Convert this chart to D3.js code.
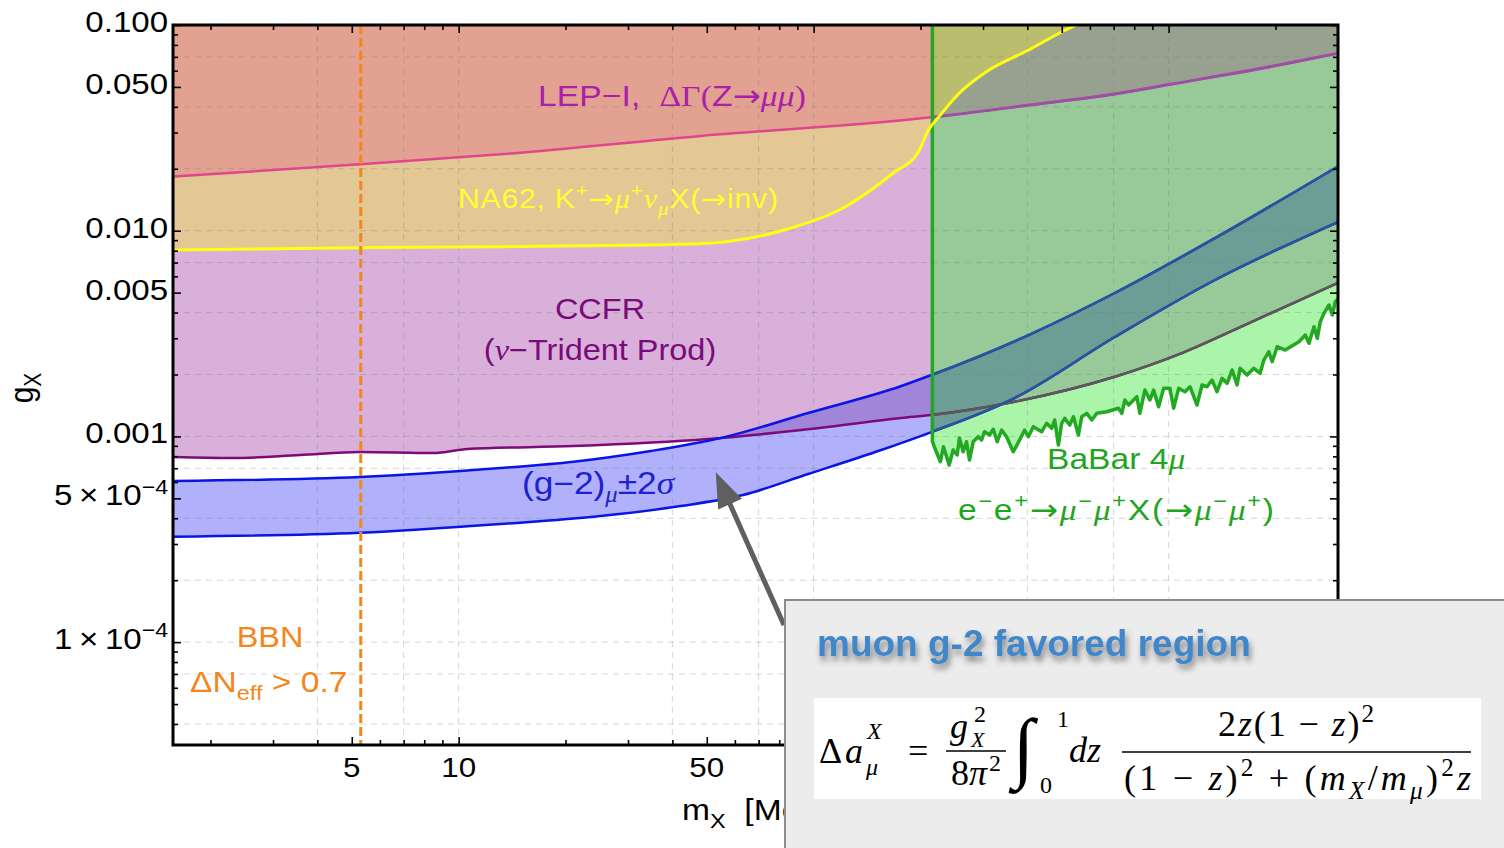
<!DOCTYPE html>
<html>
<head>
<meta charset="utf-8">
<script src="https://cdn.jsdelivr.net/npm/d3@7"></script>
<style>
  body { margin: 0; background: #fff; }
  text { white-space: pre; }
</style>
</head>
<body>
<svg id="chart" width="1504" height="848"></svg>
<script>
// values: masses m_X in MeV, couplings g_X
var xDomain = [1.568, 3000];
var yDomain = [3.162e-5, 0.1];

var lepMass = [1.575, 5.278, 13.11, 48.13, 214.6, 405.8, 705.3, 1022, 2048, 3045];
var lepG = [0.01834, 0.02103, 0.02351, 0.02887, 0.03557, 0.04084, 0.04618, 0.05165, 0.0639, 0.0733];

var na62Mass = [1.575, 5.278, 13.11, 45.98, 86.4, 119.6, 167.7, 197.3, 210.6, 225.4, 257.5, 302.9, 403.2, 499.5, 588];
var na62G = [0.008057, 0.008267, 0.00836, 0.008616, 0.01031, 0.01275, 0.01908, 0.02413, 0.03088, 0.03582, 0.04671, 0.05843, 0.07558, 0.09247, 0.1057];

var ccfrMass = [1.575, 2.312, 3.573, 5.278, 8.483, 10.58, 21.08, 50.37, 92.2, 176.6, 214.6, 368.2, 705.3, 1090, 1685, 3045];
var ccfrG = [7.94e-4, 7.85e-4, 8.12e-4, 8.40e-4, 8.30e-4, 8.69e-4, 8.98e-4, 9.71e-4, 1.074e-3, 1.229e-3, 1.271e-3, 1.475e-3, 1.951e-3, 2.543e-3, 3.557e-3, 5.65e-3];

var g2UpMass = [1.575, 5.278, 13.11, 21.08, 34.77, 54.81, 96.5, 176.6, 214.6, 403.2, 705.3, 1351, 3045];
var g2UpG = [6.07e-4, 6.35e-4, 7.02e-4, 7.53e-4, 8.49e-4, 9.82e-4, 1.299e-3, 1.758e-3, 1.988e-3, 3.111e-3, 4.98e-3, 9.21e-3, 0.02087];

var g2LoMass = [1.575, 5.278, 13.11, 25.12, 42.26, 63.24, 96.5, 155.1, 214.6, 368.2, 705.3, 1351, 3045];
var g2LoG = [3.254e-4, 3.402e-4, 3.751e-4, 4.102e-4, 4.587e-4, 5.189e-4, 6.566e-4, 8.59e-4, 1.050e-3, 1.537e-3, 3.042e-3, 5.76e-3, 0.01114];

// BaBar 4mu: vertical edge at babarMass[0], then the jagged limit
var babarMass = [216, 218.8, 227.6, 232.1, 240.8, 247.2, 253.7, 257.5, 263.8, 269.5, 274.8, 281.5, 290.8, 297.1, 303.0,
  313.0, 320.6, 329.0, 338.4, 349.5, 365.1, 380.4, 392.9, 402.5, 415.8, 438.8, 453.3, 468.3, 477.6, 489.2, 499.8,
  509.6, 526.5, 539.3, 557.1, 569.2, 588.0, 607.4, 627.5, 669.6, 722.5, 738.2, 752.7, 771.1, 813.8, 829.8, 857.3,
  885.6, 907.1, 937.1, 968.1, 1008.5, 1033.1, 1067.2, 1111.9, 1148.6, 1202.1, 1242.0, 1282.6, 1325.0, 1369.0, 1414.1,
  1460.9, 1509.2, 1559.1, 1589.8, 1663.8, 1737.8, 1810.5, 1854.6, 1915.8, 1957.2, 2021.8, 2130.1, 2328.5, 2426.2,
  2485.3, 2567.2, 2622.8, 2674.5, 2739.5, 2829.7, 2891.1, 2948.1, 3046.2];
var babarG = [9.5e-4, 8.881e-4, 7.534e-4, 8.911e-4, 7.261e-4, 8.588e-4, 8.121e-4, 9.823e-4, 8.426e-4, 9.424e-4, 7.678e-4, 9.424e-4, 9.966e-4, 9.605e-4, 10.54e-4,
  10.16e-4, 10.83e-4, 9.424e-4, 10.74e-4, 9.966e-4, 8.426e-4, 9.605e-4, 10.74e-4, 9.966e-4, 11.15e-4, 10.54e-4, 11.58e-4, 10.95e-4, 12.02e-4, 9.082e-4, 11.58e-4,
  12.24e-4, 11.36e-4, 12.47e-4, 10.16e-4, 12.47e-4, 12.95e-4, 12.02e-4, 12.95e-4, 13.18e-4, 13.70e-4, 12.95e-4, 15.03e-4, 14.21e-4, 15.60e-4, 12.95e-4, 16.81e-4,
  15.03e-4, 16.81e-4, 13.94e-4, 17.13e-4, 17.13e-4, 13.70e-4, 17.13e-4, 16.50e-4, 17.44e-4, 14.21e-4, 17.78e-4, 17.44e-4, 18.80e-4, 16.50e-4, 19.16e-4,
  18.12e-4, 21.03e-4, 17.78e-4, 21.43e-4, 19.88e-4, 21.43e-4, 20.27e-4, 23.51e-4, 25.81e-4, 23.08e-4, 27.30e-4, 26.30e-4, 28.87e-4, 31.11e-4,
  28.36e-4, 34.15e-4, 29.98e-4, 36.11e-4, 39.67e-4, 43.53e-4, 38.92e-4, 45.17e-4, 47.77e-4];

var bbnMass = 5.3;

// arrow from the inset to the g-2 band (data coordinates)
var arrowFrom = [82.5, 1.21e-4];
var arrowTo = [53, 6.7e-4];

var xMajor = [5, 10, 50, 100, 500, 1000];
var xMinor = [2, 3, 4, 6, 7, 8, 9, 20, 30, 40, 60, 70, 80, 90, 200, 300, 400, 600, 700, 800, 900, 2000];
// only these labels are left uncovered by the inset box
var xLabelVals = [5, 10, 50];
var xLabels = ["5", "10", "50"];
var yMajor = [1e-4, 5e-4, 1e-3, 5e-3, 0.01, 0.05, 0.1];
var yMinor = [4e-5, 5e-5, 6e-5, 7e-5, 8e-5, 9e-5, 2e-4, 3e-4, 4e-4, 6e-4, 7e-4, 8e-4, 9e-4,
  2e-3, 3e-3, 4e-3, 6e-3, 7e-3, 8e-3, 9e-3, 0.02, 0.03, 0.04, 0.06, 0.07, 0.08, 0.09];
var yLabelVals = [0.1, 0.05, 0.01, 0.005, 0.001, 5e-4, 1e-4];
var yLabelText = ["0.100", "0.050", "0.010", "0.005", "0.001", "5\u2009×\u200910", "1\u2009×\u200910"];
var yLabelExp = ["", "", "", "", "", "−4", "−4"];
var xGrid = [4, 7, 10, 40, 70, 100, 400, 700, 1000];
var yGrid = [4e-5, 7e-5, 1e-4, 2e-4, 4e-4, 7e-4, 1e-3, 2e-3, 4e-3, 7e-3, 0.01, 0.02, 0.04, 0.07];

var plot = { left: 173, right: 1338, top: 25, bottom: 745 };
var SANS = "'Liberation Sans', Arial, sans-serif";
var SERIF = "'Liberation Serif', 'Times New Roman', serif";
var ARROW = "'DejaVu Sans', sans-serif";
var STRETCH = 1.12; // the source figure is a bit wider than tall

var C = {
  lilac: "#d8b0da", tan: "#e3c795", salmon: "#e3a192",
  blueFill: "#b0b0fb", purpleFill: "#a085d8",
  green1: "#abf5ab", green2: "#98c998", greenGray: "#98a190", olive: "#b9bd6d", teal: "#6d9e96",
  lep: "#e0468c", lepIn: "#9b50a5", ccfr: "#7d0a78", ccfrIn: "#5a5a5a",
  blue: "#0a14e6", blueIn: "#2a5698", yellow: "#ffff10", babar: "#22a822", bbn: "#f2871c"
};

var x = d3.scaleLog().domain(xDomain).range([plot.left, plot.right]);
var y = d3.scaleLog().domain(yDomain).range([plot.bottom, plot.top]);

function pairs(ms, gs) {
  return ms.map(function (m, i) { return [m, gs[i]]; });
}
var lep = pairs(lepMass, lepG);
var na62 = pairs(na62Mass, na62G);
var ccfr = pairs(ccfrMass, ccfrG);
var g2Up = pairs(g2UpMass, g2UpG);
var g2Lo = pairs(g2LoMass, g2LoG);
var babar = pairs(babarMass, babarG);

var line = d3.line().x((d) => x(d[0])).y((d) => y(d[1])).curve(d3.curveMonotoneX);
var above = d3.area().x((d) => x(d[0])).y0(plot.top - 20).y1((d) => y(d[1])).curve(d3.curveMonotoneX);
var below = d3.area().x((d) => x(d[0])).y0(plot.bottom + 20).y1((d) => y(d[1])).curve(d3.curveMonotoneX);

var babarPts = [[x(babar[0][0]), plot.top - 20]].concat(babar.map((d) => [x(d[0]), y(d[1])]));
var last = babarPts[babarPts.length - 1];
var babarPoly = d3.line()(babarPts.concat([[plot.right + 20, last[1]], [plot.right + 20, plot.top - 20]])) + "Z";
var babarEdge = d3.line()(babarPts);

var svg = d3.select("#chart");
var defs = svg.append("defs");

defs.append("clipPath").attr("id", "cPlot").append("rect")
  .attr("x", plot.left).attr("y", plot.top)
  .attr("width", plot.right - plot.left).attr("height", plot.bottom - plot.top);

function clip(id, d) {
  defs.append("clipPath").attr("id", id).append("path").attr("d", d);
}
clip("cLep", above(lep));
clip("cNa", above(na62));
clip("cCc", above(ccfr));
clip("cLo", above(g2Lo));
clip("cUp", below(g2Up));
clip("cBabar", babarPoly);

var shadow = defs.append("filter").attr("id", "shadow").attr("x", "-10%").attr("y", "-30%").attr("width", "120%").attr("height", "180%");
shadow.append("feDropShadow").attr("dx", 2).attr("dy", 5).attr("stdDeviation", 3)
  .attr("flood-color", "#000").attr("flood-opacity", 0.45);

// nested clip groups = intersection of regions
function within(parent, ids) {
  var g = parent;
  ids.forEach(function (id) {
    g = g.append("g").attr("clip-path", "url(#" + id + ")");
  });
  return g;
}
function fillRect(parent, color) {
  parent.append("rect")
    .attr("x", plot.left).attr("y", plot.top)
    .attr("width", plot.right - plot.left).attr("height", plot.bottom - plot.top)
    .attr("fill", color);
}

var fills = svg.append("g").attr("clip-path", "url(#cPlot)");
fillRect(within(fills, ["cCc"]), C.lilac);
fillRect(within(fills, ["cNa"]), C.tan);
fillRect(within(fills, ["cLep"]), C.salmon);
within(fills, ["cLo"]).append("path").attr("d", below(g2Up)).attr("fill", C.blueFill);
within(fills, ["cCc", "cLo"]).append("path").attr("d", below(g2Up)).attr("fill", C.purpleFill);
fills.append("path").attr("d", babarPoly).attr("fill", C.green1);
within(fills, ["cCc"]).append("path").attr("d", babarPoly).attr("fill", C.green2);
within(fills, ["cLep"]).append("path").attr("d", babarPoly).attr("fill", C.greenGray);
within(fills, ["cLep", "cNa"]).append("path").attr("d", babarPoly).attr("fill", C.olive);
within(fills, ["cLo", "cUp"]).append("path").attr("d", babarPoly).attr("fill", C.teal);

// dashed grid
var grid = svg.append("g").attr("stroke", "#777").attr("stroke-opacity", 0.3)
  .attr("stroke-width", 1).attr("stroke-dasharray", "6,5");
grid.selectAll("line.gx").data(xGrid).join("line").attr("class", "gx")
  .attr("x1", (d) => x(d)).attr("x2", (d) => x(d))
  .attr("y1", plot.top).attr("y2", plot.bottom);
grid.selectAll("line.gy").data(yGrid).join("line").attr("class", "gy")
  .attr("y1", (d) => y(d)).attr("y2", (d) => y(d))
  .attr("x1", plot.left).attr("x2", plot.right);

// curves
var curves = svg.append("g").attr("clip-path", "url(#cPlot)").attr("fill", "none").attr("stroke-linejoin", "round");
function curve(parent, data, color, w) {
  parent.append("path").attr("d", line(data)).attr("stroke", color).attr("stroke-width", w);
}
curve(curves, ccfr, C.ccfr, 2.5);
curve(curves, lep, C.lep, 2.5);
curve(curves, g2Up, C.blue, 2.5);
curve(curves, g2Lo, C.blue, 2.5);
var inBabar = within(curves, ["cBabar"]);
curve(inBabar, ccfr, C.ccfrIn, 2.5);
curve(inBabar, lep, C.lepIn, 3);
curve(inBabar, g2Up, C.blueIn, 2.5);
curve(inBabar, g2Lo, C.blueIn, 2.5);
curves.append("path").attr("d", babarEdge).attr("stroke", C.babar).attr("stroke-width", 3.5);
curve(curves, na62, C.yellow, 3);
curves.append("line")
  .attr("x1", x(bbnMass)).attr("x2", x(bbnMass))
  .attr("y1", plot.top).attr("y2", plot.bottom)
  .attr("stroke", C.bbn).attr("stroke-width", 3).attr("stroke-dasharray", "9,4");

// frame and ticks
function ticks(axis, transform, values, size) {
  svg.append("g").attr("transform", transform)
    .call(axis.tickValues(values).tickSize(-size).tickFormat(""))
    .call((g) => g.select(".domain").remove())
    .call((g) => g.selectAll("line").attr("stroke-width", 1.6));
}
ticks(d3.axisBottom(x), `translate(0,${plot.bottom})`, xMajor, 8);
ticks(d3.axisBottom(x), `translate(0,${plot.bottom})`, xMinor, 5);
ticks(d3.axisTop(x), `translate(0,${plot.top})`, xMajor, 8);
ticks(d3.axisTop(x), `translate(0,${plot.top})`, xMinor, 5);
ticks(d3.axisLeft(y), `translate(${plot.left},0)`, yMajor, 8);
ticks(d3.axisLeft(y), `translate(${plot.left},0)`, yMinor, 5);
ticks(d3.axisRight(y), `translate(${plot.right},0)`, yMajor, 8);
ticks(d3.axisRight(y), `translate(${plot.right},0)`, yMinor, 5);

svg.append("rect")
  .attr("x", plot.left).attr("y", plot.top)
  .attr("width", plot.right - plot.left).attr("height", plot.bottom - plot.top)
  .attr("fill", "none").attr("stroke", "#000").attr("stroke-width", 3);

// text with sub/superscripts; a part may also carry its own size, rise (px up) and dx
function label(parent, px, py, parts, size, opts) {
  opts = opts || {};
  var sx = opts.sx || 1;
  var tr = "translate(" + px + "," + py + ") scale(" + sx + ",1)";
  if (opts.rotate) tr += " rotate(" + opts.rotate + ")";
  var t = parent.append("text")
    .attr("transform", tr)
    .attr("font-family", opts.family || SANS)
    .attr("font-size", size)
    .attr("fill", opts.fill || "#000")
    .attr("text-anchor", opts.anchor || "start");
  var off = 0;
  parts.forEach(function (p) {
    if (typeof p === "string") p = { t: p };
    var target = p.rise != null ? -p.rise : p.s === "sup" ? -0.4 * size : p.s === "sub" ? 0.25 * size : 0;
    var ts = t.append("tspan").attr("dy", target - off).text(p.t);
    off = target;
    if (p.size) ts.attr("font-size", p.size);
    else if (p.s) ts.attr("font-size", size * 0.7);
    if (p.dx) ts.attr("dx", p.dx);
    if (p.f === "serif") ts.attr("font-family", SERIF);
    if (p.f === "it") ts.attr("font-family", SERIF).attr("font-style", "italic");
    if (p.f === "arrow") ts.attr("font-family", ARROW);
  });
  // width on screen, so undo the horizontal stretch
  if (opts.length) t.attr("textLength", opts.length / sx).attr("lengthAdjust", "spacing");
  return t;
}

var to = { t: "→", f: "arrow" };
var mu = { t: "μ", f: "it" };
var S = { sx: STRETCH };
yLabelVals.forEach(function (v, i) {
  var parts = [yLabelText[i]];
  if (yLabelExp[i]) parts.push({ t: yLabelExp[i], s: "sup" });
  label(svg, 168, y(v) + 7, parts, 29.5, { sx: STRETCH, anchor: "end" });
});
xLabelVals.forEach(function (v, i) {
  label(svg, x(v), plot.bottom + 32, [xLabels[i]], 28, { sx: STRETCH, anchor: "middle" });
});
label(svg, 682, 820, ["m", { t: "X", s: "sub" }, "  [MeV]"], 30, S);
label(svg, 33, 388, ["g", { t: "X", s: "sub" }], 30, { sx: STRETCH, rotate: -90, anchor: "middle" });

label(svg, 538, 106, ["LEP−I,  ", { t: "ΔΓ(", f: "serif" }, "Z", to, { t: "μμ", f: "it" }, { t: ")", f: "serif" }],
  30, { sx: STRETCH, fill: "#a820a8", length: 268 });
label(svg, 458, 208, ["NA62, K", { t: "+", s: "sup" }, to, mu, { t: "+", s: "sup" }, { t: "ν", f: "it" },
  { t: "μ", f: "it", s: "sub" }, "X(", to, "inv)"], 27, { sx: STRETCH, fill: "#ffff30", length: 320 });
label(svg, 600, 319, ["CCFR"], 29, { sx: STRETCH, fill: "#7a0a7a", anchor: "middle" });
label(svg, 600, 360, ["(", { t: "ν", f: "it" }, "−Trident Prod)"], 29, { sx: STRETCH, fill: "#7a0a7a", anchor: "middle" });
label(svg, 522, 494, ["(g−2)", { t: "μ", f: "it", s: "sub" }, "±2", { t: "σ", f: "it" }], 31.5, { sx: STRETCH, fill: "#2020d0" });
label(svg, 1047, 469, ["BaBar 4", mu], 30, { sx: STRETCH, fill: "#1fa51f" });
label(svg, 958, 520, ["e", { t: "−", s: "sup" }, "e", { t: "+", s: "sup" }, to, mu, { t: "−", s: "sup" },
  mu, { t: "+", s: "sup" }, "X(", to, mu, { t: "−", s: "sup" }, mu,
  { t: "+", s: "sup" }, ")"], 30, { sx: STRETCH, fill: "#1fa51f", length: 316 });
label(svg, 270, 647, ["BBN"], 29, { sx: STRETCH, fill: C.bbn, anchor: "middle" });
label(svg, 190, 692, ["ΔN", { t: "eff", s: "sub" }, " > 0.7"], 30, { sx: STRETCH, fill: C.bbn });

// arrow
var a0 = [x(arrowFrom[0]), y(arrowFrom[1])];
var a1 = [x(arrowTo[0]), y(arrowTo[1])];
var dx = a1[0] - a0[0], dy = a1[1] - a0[1], len = Math.hypot(dx, dy);
var ux = dx / len, uy = dy / len;
var headL = 35, headW = 13;
var bx = a1[0] - ux * headL, by = a1[1] - uy * headL;
svg.append("line").attr("x1", a0[0]).attr("y1", a0[1]).attr("x2", bx + ux * 4).attr("y2", by + uy * 4)
  .attr("stroke", "#5f5f5f").attr("stroke-width", 5);
svg.append("path")
  .attr("d", d3.line()([a1, [bx - uy * headW, by + ux * headW], [bx + uy * headW, by - ux * headW]]) + "Z")
  .attr("fill", "#5f5f5f");

// inset with the formula
var inset = svg.append("g");
inset.append("rect").attr("x", 785).attr("y", 600).attr("width", 740).attr("height", 270)
  .attr("fill", "#ececec").attr("stroke", "#8c8c8c").attr("stroke-width", 2);
label(inset, 817, 656, ["muon g-2 favored region"], 37, { fill: "#3f86c8" })
  .attr("font-weight", "bold").attr("filter", "url(#shadow)");
inset.append("rect").attr("x", 814).attr("y", 698).attr("width", 667).attr("height", 101).attr("fill", "#fff");

var F = { family: SERIF };
var it = (s) => ({ t: s, f: "it" });
label(inset, 819, 763, ["Δ"], 36, F);
label(inset, 845, 763, [it("a")], 36, F);
label(inset, 867, 739, [it("X")], 24, F);
label(inset, 866, 775, [it("μ")], 24, F);
label(inset, 908, 763, ["="], 36, F);
label(inset, 950, 738, [it("g")], 36, F);
label(inset, 974, 722, ["2"], 24, F);
label(inset, 971, 747, [it("X")], 22, F);
inset.append("line").attr("x1", 946).attr("x2", 1006).attr("y1", 751).attr("y2", 751).attr("stroke", "#000").attr("stroke-width", 1.6);
label(inset, 951, 785, ["8", it("π"), { t: "2", size: 24, rise: 14, dx: 2 }], 36, F);
label(inset, 1013, 773, ["∫"], 78, F);
label(inset, 1057, 727, ["1"], 24, F);
label(inset, 1040, 793, ["0"], 24, F);
label(inset, 1069, 762, [it("dz")], 36, F);
inset.append("line").attr("x1", 1122).attr("x2", 1471).attr("y1", 752).attr("y2", 752).attr("stroke", "#000").attr("stroke-width", 1.6);
label(inset, 1218, 736, ["2", it("z"), "(1 − ", it("z"), ")", { t: "2", s: "sup" }], 36, { family: SERIF, length: 156 });
label(inset, 1124, 790, ["(1 − ", it("z"), ")", { t: "2", s: "sup" }, " + (", it("m"), { t: "X", f: "it", s: "sub" }, "/", it("m"),
  { t: "μ", f: "it", s: "sub" }, ")", { t: "2", s: "sup" }, it("z")], 36, { family: SERIF, length: 347 });
</script>
</body>
</html>
